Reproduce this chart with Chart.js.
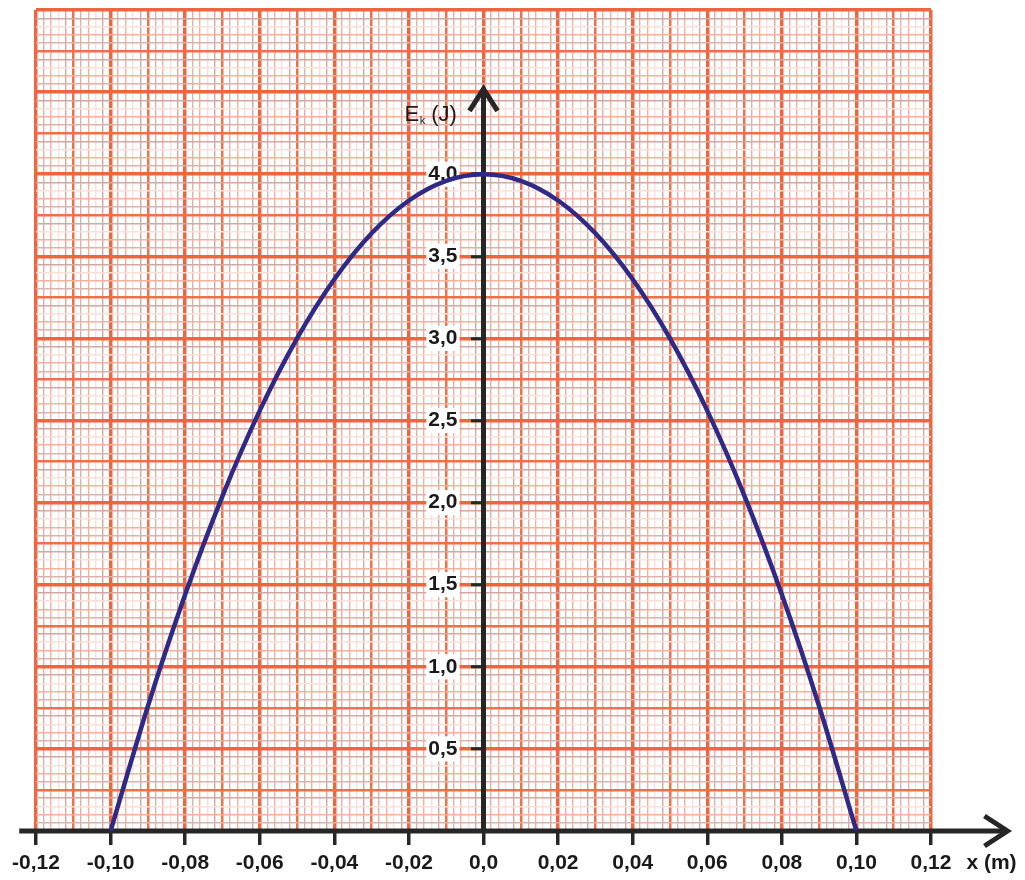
<!DOCTYPE html>
<html>
<head>
<meta charset="utf-8">
<script src="https://cdn.jsdelivr.net/npm/chart.js@4.4.1/dist/chart.umd.min.js"></script>
<style>
  html, body { margin: 0; padding: 0; background: #ffffff; }
  #wrap { width: 1025px; height: 880px; position: relative; }
  canvas { display: block; }
</style>
</head>
<body>
<div id="wrap"><canvas id="c" width="1025" height="880"></canvas></div>
<script>
// ---- data ----
const positions = [-0.10, -0.09, -0.08, -0.07, -0.06, -0.05, -0.04, -0.03, -0.02, -0.01, 0.00,
                   0.01, 0.02, 0.03, 0.04, 0.05, 0.06, 0.07, 0.08, 0.09, 0.10];
const kineticEnergy = [0.00, 0.76, 1.44, 2.04, 2.56, 3.00, 3.36, 3.64, 3.84, 3.96, 4.00,
                       3.96, 3.84, 3.64, 3.36, 3.00, 2.56, 2.04, 1.44, 0.76, 0.00];
const xTickLabels = ['-0,12', '-0,10', '-0,08', '-0,06', '-0,04', '-0,02', '0,0',
                     '0,02', '0,04', '0,06', '0,08', '0,10', '0,12'];
const yTickLabels = ['0,5', '1,0', '1,5', '2,0', '2,5', '3,0', '3,5', '4,0'];
const xTitle = 'x (m)';
const yTitleMain = 'E';
const yTitleSub = 'k';
const yTitleRest = ' (J)';

const X_MIN = -0.12, X_MAX = 0.12, X_STEP = 0.002;
const Y_MIN = 0, Y_MAX = 5, Y_STEP = 0.05;

const MAJOR = '#ee6640';
const MEDIUM = '#f0704a';
const MINOR_COLORS = ['#dbb3ad', '#f5b19c', '#fae0d9', '#d3a8a2'];
const AXIS = '#262626';
const CURVE = '#2e2a86';

function xIndex(v) { return Math.round((v - X_MIN) / X_STEP); }
function yIndex(v) { return Math.round((v - Y_MIN) / Y_STEP); }

function gridColor(k) {
  if (k % 10 === 0) return MAJOR;
  if (k % 5 === 0) return MEDIUM;
  return MINOR_COLORS[(k % 5) - 1];
}
function gridWidth(k) {
  if (k % 10 === 0) return 3.5;
  if (k % 5 === 0) return 2.5;
  return 1.4;
}
function xLabelFor(v) {
  const k = xIndex(v);
  return k % 10 === 0 ? xTickLabels[k / 10] : '';
}
function yLabelFor(v) {
  const k = yIndex(v);
  if (k % 10 === 0 && k >= 10 && k <= 80) return yTickLabels[k / 10 - 1];
  return '';
}

const axesPlugin = {
  id: 'axesArrows',
  beforeDatasetsDraw(chart) {
    const { ctx } = chart;
    const xs = chart.scales.x, ys = chart.scales.y;
    const x0 = xs.getPixelForValue(0);
    const y0 = ys.getPixelForValue(0);
    const yTop = ys.getPixelForValue(4.52);
    const xLeft = xs.getPixelForValue(-0.1245);
    const xRight = xs.getPixelForValue(0.1405);
    ctx.save();
    ctx.strokeStyle = AXIS;
    ctx.lineWidth = 5;
    ctx.lineCap = 'butt';
    ctx.lineJoin = 'miter';
    // horizontal axis
    ctx.beginPath();
    ctx.moveTo(xLeft, y0);
    ctx.lineTo(xRight - 3, y0);
    ctx.stroke();
    ctx.beginPath();
    ctx.moveTo(xRight - 23, y0 - 15);
    ctx.lineTo(xRight, y0);
    ctx.lineTo(xRight - 23, y0 + 15);
    ctx.stroke();
    // vertical axis
    ctx.beginPath();
    ctx.moveTo(x0, y0);
    ctx.lineTo(x0, yTop + 3);
    ctx.stroke();
    ctx.beginPath();
    ctx.moveTo(x0 - 14, yTop + 22);
    ctx.lineTo(x0, yTop);
    ctx.lineTo(x0 + 14, yTop + 22);
    ctx.stroke();
    ctx.restore();
  },
  afterDraw(chart) {
    const { ctx } = chart;
    const xs = chart.scales.x, ys = chart.scales.y;
    const x0 = xs.getPixelForValue(0);
    const y0 = ys.getPixelForValue(0);
    const yTop = ys.getPixelForValue(4.52);
    ctx.save();
    ctx.fillStyle = '#1a1a1a';
    ctx.textBaseline = 'alphabetic';
    // y title
    ctx.font = '22px "Liberation Sans", Arial, sans-serif';
    let tx = x0 - 79;
    const by = yTop + 32;
    ctx.fillText(yTitleMain, tx, by);
    tx += ctx.measureText(yTitleMain).width + 0.5;
    ctx.font = '11px "Liberation Sans", Arial, sans-serif';
    ctx.fillText(yTitleSub, tx, by + 3);
    tx += ctx.measureText(yTitleSub).width;
    ctx.font = '22px "Liberation Sans", Arial, sans-serif';
    ctx.fillText(yTitleRest, tx, by);
    // x title
    ctx.font = 'bold 21px "Liberation Sans", Arial, sans-serif';
    ctx.fillText(xTitle, xs.getPixelForValue(0.1295), y0 + 38);
    ctx.restore();
  }
};

new Chart(document.getElementById('c'), {
  type: 'scatter',
  data: {
    datasets: [{
      data: positions.map((p, i) => ({ x: p, y: kineticEnergy[i] })),
      showLine: true,
      borderColor: CURVE,
      borderWidth: 4.5,
      pointRadius: 0,
      cubicInterpolationMode: 'monotone',
      fill: false
    }]
  },
  options: {
    responsive: false,
    animation: false,
    devicePixelRatio: 1,
    layout: { padding: { left: 36, right: 94, top: 10, bottom: 0 } },
    plugins: { legend: { display: false }, tooltip: { enabled: false } },
    scales: {
      x: {
        type: 'linear',
        position: 'bottom',
        min: X_MIN,
        max: X_MAX,
        afterFit(scale) { scale.height = 49; scale.paddingTop = 0; scale.paddingBottom = 0; },
        ticks: {
          stepSize: X_STEP,
          autoSkip: false,
          maxRotation: 0,
          minRotation: 0,
          padding: 6,
          color: '#1a1a1a',
          font: { family: '"Liberation Sans", Arial, sans-serif', size: 21, weight: 'bold' },
          callback: (v) => xLabelFor(v)
        },
        grid: {
          color: (c) => gridColor(xIndex(c.tick.value)),
          lineWidth: (c) => gridWidth(xIndex(c.tick.value)),
          tickColor: (c) => (xIndex(c.tick.value) % 10 === 0 ? AXIS : 'rgba(0,0,0,0)'),
          tickWidth: 3.5,
          tickLength: 14,
          drawTicks: true
        },
        border: { display: false }
      },
      y: {
        type: 'linear',
        position: 'center',
        min: Y_MIN,
        max: Y_MAX,
        afterFit(scale) { scale.paddingTop = 0; scale.paddingBottom = 0; },
        ticks: {
          stepSize: Y_STEP,
          autoSkip: false,
          padding: 0,
          color: '#1a1a1a',
          font: { family: '"Liberation Sans", Arial, sans-serif', size: 21, weight: 'bold' },
          callback: (v) => yLabelFor(v),
          showLabelBackdrop: (c) => yLabelFor(c.tick.value) !== '',
          backdropColor: '#ffffff',
          backdropPadding: { top: 0, bottom: 0, left: 2, right: 2 }
        },
        grid: {
          color: (c) => gridColor(yIndex(c.tick.value)),
          lineWidth: (c) => gridWidth(yIndex(c.tick.value)),
          tickColor: (c) => (yLabelFor(c.tick.value) !== '' ? AXIS : 'rgba(0,0,0,0)'),
          tickWidth: 3,
          tickLength: 26,
          tickBorderDash: [13, 60],
          drawTicks: true
        },
        border: { display: false }
      }
    }
  },
  plugins: [axesPlugin]
});
</script>
</body>
</html>
